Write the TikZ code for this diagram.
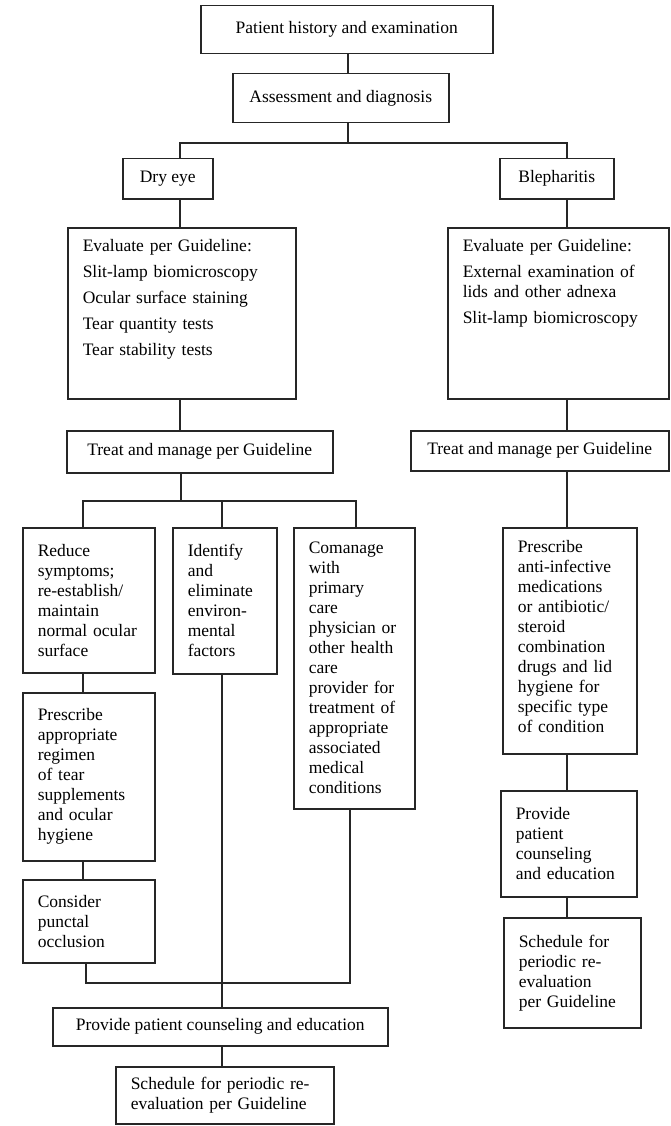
\documentclass[tikz,border=0pt]{standalone}
\usepackage{fontspec}
\setmainfont{Liberation Serif}
\begin{document}
\begin{tikzpicture}[x=1pt,y=-1pt,
  box/.style={draw=black!85, line width=1.5pt, anchor=north west, align=left,
    inner xsep=15pt, inner ysep=4pt, font=\fontsize{17.5}{20}\selectfont},
  head/.style={box, align=center},
  link/.style={draw=black!85, line width=1.5pt}]
  \useasboundingbox (0,0) rectangle (670,1126);
  % top
  \node[head, minimum width=292pt, minimum height=48pt] (hist) at (200,5) {Patient history and examination};
  \node[head, minimum width=216pt, minimum height=49pt] (assess) at (232,73) {Assessment and diagnosis};
  \node[head, minimum width=90pt, minimum height=40pt] (dry) at (122,158) {Dry eye};
  \node[head, minimum width=114pt, minimum height=40pt] (bleph) at (499,158) {Blepharitis};
  % evaluate
  \node[box, text width=198pt, inner ysep=12pt, text depth=135pt] (evaldry) at (67,227)
    {Evaluate per Guideline:\\[6pt] Slit-lamp biomicroscopy\\[6pt] Ocular surface staining\\[6pt]
     Tear quantity tests\\[6pt] Tear stability tests};
  \node[box, text width=191pt, inner ysep=12pt, text depth=135pt] (evalbleph) at (447,227)
    {Evaluate per Guideline:\\[6pt] External examination of\\ lids and other adnexa\\[6pt]
     Slit-lamp biomicroscopy};
  \node[head, minimum width=266pt, minimum height=42pt] (treatdry) at (66,430) {Treat and manage per Guideline};
  \node[head, minimum width=258pt, minimum height=40pt] (treatbleph) at (410,430) {Treat and manage per Guideline};
  % dry eye branches
  \node[box, text width=102pt, minimum height=145pt] (reduce) at (22,527)
    {Reduce\\ symptoms;\\ re-establish/\\ maintain\\ normal ocular\\ surface};
  \node[box, text width=74pt, minimum height=146pt] (envir) at (172,527)
    {Identify\\ and\\ eliminate\\ environ-\\ mental\\ factors};
  \node[box, text width=91pt, minimum height=281pt] (comanage) at (293,527)
    {Comanage\\ with\\ primary\\ care\\ physician or\\ other health\\ care\\ provider for\\ treatment of\\
     appropriate\\ associated\\ medical\\ conditions};
  \node[box, text width=102pt, minimum height=168pt] (tearsupp) at (22,692)
    {Prescribe\\ appropriate\\ regimen\\ of tear\\ supplements\\ and ocular\\ hygiene};
  \node[box, text width=102pt, minimum height=83pt] (punctal) at (22,879)
    {Consider\\ punctal\\ occlusion};
  \node[head, minimum width=335pt, minimum height=38pt] (counsdry) at (52,1007) {Provide patient counseling and education};
  \node[box, text width=188pt, minimum height=57pt] (schedry) at (115,1066)
    {Schedule for periodic re-\\ evaluation per Guideline};
  % blepharitis branch
  \node[box, text width=104pt, inner ysep=13pt, text depth=188pt] (antiinf) at (502,527)
    {Prescribe\\ anti-infective\\ medications\\ or antibiotic/\\ steroid\\ combination\\ drugs and lid\\
     hygiene for\\ specific type\\ of condition};
  \node[box, text width=106pt, minimum height=106pt] (counsbleph) at (500,790)
    {Provide\\ patient\\ counseling\\ and education};
  \node[box, text width=107pt, minimum height=110pt] (schedbleph) at (503,917)
    {Schedule for\\ periodic re-\\ evaluation\\ per Guideline};
  % junctions
  \coordinate (split) at (348,143);
  \coordinate (dtr) at (180,143);
  \coordinate (btr) at (567,143);
  \coordinate (fork) at (181,501);
  \coordinate (ltr) at (83,501);
  \coordinate (mtr) at (222,501);
  \coordinate (ctr) at (356,501);
  \coordinate (jl) at (86,983);
  \coordinate (jr) at (350,983);
  % connectors
  \draw[link] (hist.south -| split) -- (assess.north -| split);
  \draw[link] (assess.south -| split) -- (split);
  \draw[link] (dry.north -| dtr) -- (dtr) -- (btr) -- (bleph.north -| btr);
  \draw[link] (dry.south -| dtr) -- (evaldry.north -| dtr);
  \draw[link] (evaldry.south -| dtr) -- (treatdry.north -| dtr);
  \draw[link] (treatdry.south -| fork) -- (fork);
  \draw[link] (reduce.north -| ltr) -- (ltr) -- (ctr) -- (comanage.north -| ctr);
  \draw[link] (mtr) -- (envir.north -| mtr);
  \draw[link] (reduce.south -| ltr) -- (tearsupp.north -| ltr);
  \draw[link] (tearsupp.south -| ltr) -- (punctal.north -| ltr);
  \draw[link] (punctal.south -| jl) -- (jl) -- (jr) -- (comanage.south -| jr);
  \draw[link] (envir.south -| mtr) -- (counsdry.north -| mtr);
  \draw[link] (counsdry.south -| mtr) -- (schedry.north -| mtr);
  \draw[link] (bleph.south -| btr) -- (evalbleph.north -| btr);
  \draw[link] (evalbleph.south -| btr) -- (treatbleph.north -| btr);
  \draw[link] (treatbleph.south -| btr) -- (antiinf.north -| btr);
  \draw[link] (antiinf.south -| btr) -- (counsbleph.north -| btr);
  \draw[link] (counsbleph.south -| btr) -- (schedbleph.north -| btr);
\end{tikzpicture}
\end{document}
